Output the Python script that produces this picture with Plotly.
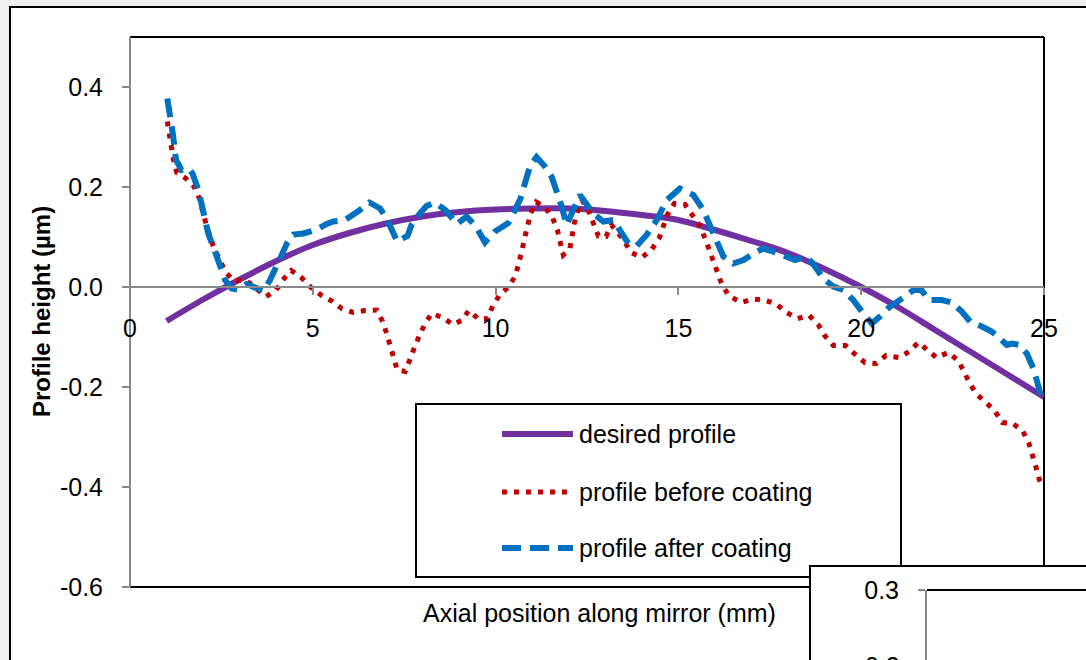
import plotly.graph_objects as go

# ---------------- data ----------------
desired_x = list(range(1, 26))
desired_y = [-0.068, -0.025, 0.015, 0.052, 0.084, 0.108, 0.127, 0.141, 0.150, 0.155,
             0.157, 0.157, 0.152, 0.144, 0.134, 0.114, 0.092, 0.068, 0.036, 0.000,
             -0.040, -0.085, -0.130, -0.175, -0.220]

before_x = [1.02, 1.11, 1.19, 1.28, 1.53, 1.75, 1.90, 2.08, 2.17, 2.30, 2.46, 2.60, 2.83,
            3.17, 3.47, 3.72, 3.99, 4.18, 4.41, 4.70, 4.95, 5.22, 5.52, 5.79, 6.11, 6.43,
            6.75, 6.91, 7.02, 7.11, 7.20, 7.31, 7.53, 7.64, 7.78, 7.91, 8.06, 8.25, 8.55,
            8.83, 9.07, 9.27, 9.53, 9.78, 9.92, 10.10, 10.36, 10.54, 10.64, 10.72, 10.79,
            10.87, 10.96, 11.11, 11.36, 11.56, 11.69, 11.77, 11.85, 12.03, 12.09, 12.15,
            12.25, 12.37, 12.55, 12.67, 12.81, 13.02, 13.17, 13.51, 13.70, 14.00, 14.27,
            14.47, 14.59, 14.70, 14.89, 15.18, 15.38, 15.59, 15.73, 15.84, 15.95, 16.06,
            16.20, 16.39, 16.72, 17.03, 17.35, 17.67, 17.96, 18.26, 18.58, 18.83, 19.02,
            19.24, 19.57, 19.84, 20.10, 20.41, 20.68, 21.03, 21.32, 21.56, 21.80, 22.06,
            22.38, 22.65, 22.82, 22.97, 23.16, 23.42, 23.67, 23.86, 24.15, 24.42, 24.58,
            24.69, 24.78, 24.87, 24.92]
before_y = [0.331, 0.281, 0.254, 0.229, 0.217, 0.201, 0.177, 0.126, 0.104, 0.077, 0.054,
            0.031, 0.013, 0.014, -0.004, -0.019, -0.007, 0.014, 0.033, 0.018, -0.001,
            -0.016, -0.028, -0.043, -0.051, -0.047, -0.046, -0.069, -0.093, -0.116, -0.142,
            -0.166, -0.169, -0.146, -0.121, -0.098, -0.075, -0.053, -0.061, -0.075, -0.067,
            -0.047, -0.064, -0.063, -0.038, -0.017, 0.001, 0.022, 0.047, 0.072, 0.097,
            0.122, 0.147, 0.170, 0.159, 0.138, 0.114, 0.089, 0.064, 0.076, 0.101, 0.127,
            0.152, 0.173, 0.151, 0.126, 0.102, 0.101, 0.124, 0.093, 0.069, 0.059, 0.075,
            0.097, 0.121, 0.145, 0.167, 0.165, 0.144, 0.122, 0.097, 0.075, 0.051, 0.026,
            0.003, -0.018, -0.031, -0.024, -0.026, -0.034, -0.051, -0.063, -0.057, -0.076,
            -0.099, -0.117, -0.117, -0.135, -0.151, -0.153, -0.137, -0.141, -0.129, -0.111,
            -0.127, -0.141, -0.131, -0.147, -0.170, -0.193, -0.215, -0.231, -0.250, -0.271,
            -0.273, -0.288, -0.311, -0.335, -0.360, -0.385, -0.392]

after_x = [1.02, 1.09, 1.17, 1.26, 1.41, 1.60, 1.71, 1.87, 2.01, 2.14, 2.31, 2.46, 2.60,
           2.78, 2.94, 3.19, 3.47, 3.65, 3.83, 3.97, 4.15, 4.29, 4.47, 4.74, 5.11, 5.38,
           5.56, 5.88, 6.11, 6.29, 6.55, 6.84, 7.02, 7.18, 7.31, 7.59, 7.70, 7.93, 8.11,
           8.34, 8.64, 8.94, 9.21, 9.48, 9.71, 9.98, 10.35, 10.67, 10.80, 10.94, 11.12,
           11.35, 11.53, 11.67, 11.81, 11.94, 12.10, 12.31, 12.67, 12.95, 13.22, 13.40,
           13.63, 13.86, 14.13, 14.41, 14.68, 15.04, 15.41, 15.68, 15.95, 16.23, 16.50,
           16.78, 17.05, 17.32, 17.60, 17.83, 18.19, 18.51, 18.74, 18.96, 19.24, 19.51,
           19.78, 20.06, 20.29, 20.51, 20.79, 21.20, 21.43, 21.65, 21.84, 22.20, 22.48,
           22.75, 22.98, 23.30, 23.57, 23.84, 23.98, 24.12, 24.34, 24.53, 24.71, 24.80,
           24.91, 24.97]
after_y = [0.377, 0.347, 0.307, 0.254, 0.234, 0.237, 0.227, 0.194, 0.147, 0.107, 0.074,
           0.041, 0.014, -0.003, -0.005, 0.006, -0.003, -0.008, 0.014, 0.034, 0.064, 0.087,
           0.105, 0.107, 0.115, 0.126, 0.131, 0.134, 0.144, 0.154, 0.169, 0.157, 0.137,
           0.114, 0.091, 0.102, 0.124, 0.147, 0.162, 0.169, 0.153, 0.126, 0.141, 0.119,
           0.089, 0.111, 0.128, 0.175, 0.211, 0.241, 0.260, 0.241, 0.221, 0.194, 0.161,
           0.124, 0.150, 0.184, 0.147, 0.131, 0.134, 0.114, 0.087, 0.082, 0.104, 0.134,
           0.174, 0.197, 0.184, 0.154, 0.107, 0.061, 0.047, 0.054, 0.067, 0.077, 0.071,
           0.064, 0.054, 0.061, 0.041, 0.017, 0.001, -0.006, -0.026, -0.053, -0.073,
           -0.059, -0.039, -0.019, -0.006, -0.006, -0.026, -0.026, -0.031, -0.049, -0.069,
           -0.079, -0.089, -0.106, -0.116, -0.113, -0.116, -0.133, -0.163, -0.186, -0.216,
           -0.220]

series_names = ["desired profile", "profile before coating", "profile after coating"]
x_ticks = [0, 5, 10, 15, 20, 25]
x_ticklabels = ["0", "5", "10", "15", "20", "25"]
y_ticks = [-0.6, -0.4, -0.2, 0.0, 0.2, 0.4]
y_ticklabels = ["-0.6", "-0.4", "-0.2", "0.0", "0.2", "0.4"]
inset_ticks = [0.3]
inset_ticklabels = ["0.3"]

# ---------------- layout helpers (target pixel -> paper) ----------------
W, H = 1086, 660
def px(x):
    return x / W
def py(y):
    return 1 - y / H

PURPLE = "#7030A0"
RED = "#C00000"
BLUE = "#0070C0"
GREY = "#898989"
FONT = "Liberation Sans, Arial, sans-serif"

styles = [
    dict(color=PURPLE, width=6, dash="solid"),
    dict(color=RED, width=5, dash="5px,7px"),
    dict(color=BLUE, width=6, dash="19px,9px"),
]

fig = go.Figure()

for (xs, ys), name, st in zip([(desired_x, desired_y), (before_x, before_y), (after_x, after_y)],
                              series_names, styles):
    fig.add_trace(go.Scatter(x=xs, y=ys, mode="lines", name=name, showlegend=False,
                             line=dict(color=st["color"], width=st["width"], dash=st["dash"],
                                       shape="spline" if name == "desired profile" else "linear"),
                             xaxis="x", yaxis="y"))

# manual legend samples drawn on a helper axis pair (pixel units)
leg_rows = [434, 492, 548]
for row, name, st in zip(leg_rows, series_names, styles):
    fig.add_trace(go.Scatter(x=[502, 573], y=[row, row], mode="lines", showlegend=False,
                             line=dict(color=st["color"], width=st["width"], dash=st["dash"]),
                             xaxis="x2", yaxis="y2", hoverinfo="skip"))

# inset placeholder trace
fig.add_trace(go.Scatter(x=[], y=[], showlegend=False, xaxis="x3", yaxis="y3"))

main_xdom = [px(130), px(1044)]
main_ydom = [py(587), py(37)]
y0_pos = main_ydom[0] + (0 - (-0.6)) / 1.1 * (main_ydom[1] - main_ydom[0])

fig.update_layout(
    width=W, height=H,
    margin=dict(l=0, r=0, t=0, b=0, pad=0, autoexpand=False),
    paper_bgcolor="#efefef",
    plot_bgcolor="rgba(0,0,0,0)",
    font=dict(family=FONT, size=25, color="black"),
    showlegend=False,
    xaxis=dict(domain=main_xdom, range=[0, 25], anchor="free", position=y0_pos,
               tickvals=x_ticks, ticktext=x_ticklabels, ticks="outside", ticklen=7,
               tickwidth=2, tickcolor=GREY, showline=True, linecolor=GREY, linewidth=2,
               showgrid=False, zeroline=False, ticklabelstandoff=12, automargin=False,
               tickfont=dict(family=FONT, size=25)),
    yaxis=dict(domain=main_ydom, range=[-0.6, 0.5], anchor="free", position=main_xdom[0],
               tickvals=y_ticks, ticktext=y_ticklabels, ticks="outside", ticklen=7,
               tickwidth=2, tickcolor=GREY, showline=True, linecolor=GREY, linewidth=2,
               showgrid=False, zeroline=False, ticklabelstandoff=14, automargin=False,
               tickfont=dict(family=FONT, size=25)),
    xaxis2=dict(domain=[px(416), px(901)], range=[416, 901], anchor="y2", visible=False,
                automargin=False),
    yaxis2=dict(domain=[py(577), py(404)], range=[577, 404], anchor="x2", visible=False,
                automargin=False),
    xaxis3=dict(domain=[px(926), 1], range=[0, 1], anchor="y3", visible=False,
                automargin=False),
    yaxis3=dict(domain=[0, py(590)], range=[0.3 - 70 / 750, 0.3], anchor="free",
                position=px(926), tickvals=inset_ticks, ticktext=inset_ticklabels,
                ticks="outside", ticklen=7, tickwidth=2, tickcolor=GREY, showline=True,
                linecolor=GREY, linewidth=2, showgrid=False, zeroline=False,
                ticklabelstandoff=14, automargin=False, tickfont=dict(family=FONT, size=25)),
)

shapes = [
    # outer chart frame
    dict(type="rect", xref="paper", yref="paper", x0=px(10), x1=1.05, y0=-0.1, y1=py(7),
         fillcolor="white", line=dict(color="black", width=2), layer="below"),
    # plot box (top, right, bottom)
    dict(type="line", xref="paper", yref="paper", x0=px(130), x1=px(1044), y0=py(37), y1=py(37),
         line=dict(color="black", width=2), layer="below"),
    dict(type="line", xref="paper", yref="paper", x0=px(1044), x1=px(1044), y0=py(37), y1=py(587),
         line=dict(color="black", width=2), layer="below"),
    dict(type="line", xref="paper", yref="paper", x0=px(130), x1=px(1044), y0=py(587), y1=py(587),
         line=dict(color="black", width=2), layer="below"),
    # legend box
    dict(type="rect", xref="paper", yref="paper", x0=px(416), x1=px(901), y0=py(577), y1=py(404),
         fillcolor="white", line=dict(color="black", width=2), layer="below"),
    # inset chart frame
    dict(type="rect", xref="paper", yref="paper", x0=px(810), x1=1.05, y0=-0.1, y1=py(566),
         fillcolor="white", line=dict(color="black", width=2), layer="below"),
    dict(type="line", xref="paper", yref="paper", x0=px(927), x1=1.01, y0=py(590), y1=py(590),
         line=dict(color="black", width=2), layer="below"),
]
fig.update_layout(shapes=shapes)

annotations = [
    dict(text="<b>Profile height (µm)</b>", xref="paper", yref="paper", x=px(42), y=py(312),
         textangle=-90, showarrow=False, font=dict(family=FONT, size=24),
         xanchor="center", yanchor="middle"),
    dict(text="Axial position along mirror (mm)", xref="paper", yref="paper", x=px(599),
         y=py(613), showarrow=False, font=dict(family=FONT, size=25),
         xanchor="center", yanchor="middle"),
    dict(text="0.2", xref="paper", yref="paper", x=px(902), y=py(666), showarrow=False,
         xanchor="right", yanchor="middle", font=dict(family=FONT, size=25)),
]
for row, name in zip(leg_rows, series_names):
    annotations.append(dict(text=name, xref="paper", yref="paper", x=px(577), y=py(row),
                            showarrow=False, xanchor="left", yanchor="middle",
                            font=dict(family=FONT, size=25)))
fig.update_layout(annotations=annotations)

fig.write_html(
    "out.html",
    config={"displayModeBar": False},
    post_script=(
        "document.body.style.margin='0';"
        "document.body.style.overflow='hidden';"
        "document.body.style.background='#efefef';"
    ),
)
